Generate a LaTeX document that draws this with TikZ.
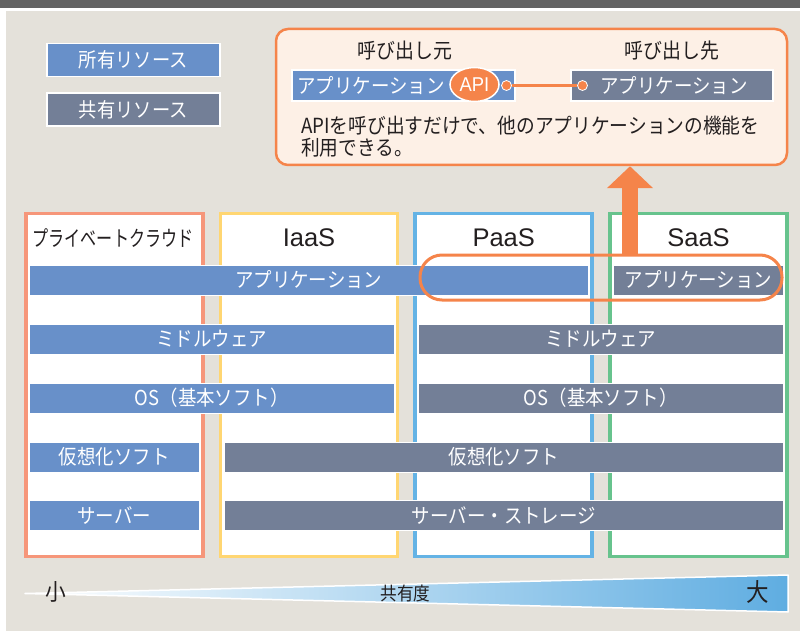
\documentclass[tikz,border=0pt]{standalone}
\usepackage{graphicx}
\usepackage{fontspec}
\setmainfont{Noto Sans CJK JP}[FakeStretch=0.9]
\newfontfamily\latfont{Liberation Sans}
\usetikzlibrary{arrows.meta,shapes.geometric}
\definecolor{bg}{HTML}{E4E1DA}
\definecolor{topdark}{HTML}{636363}
\definecolor{ownblue}{HTML}{6890C9}
\definecolor{sharegray}{HTML}{737F97}
\definecolor{acc}{HTML}{F5844A}
\definecolor{callfill}{HTML}{FDF0E6}
\definecolor{colpriv}{HTML}{F6967A}
\definecolor{coliaas}{HTML}{FFD672}
\definecolor{colpaas}{HTML}{64B3E5}
\definecolor{colsaas}{HTML}{67C38D}
\definecolor{ink}{HTML}{231F20}
\definecolor{gradblue}{HTML}{5FADE1}
\begin{document}
\begin{tikzpicture}[x=1pt,y=-1pt,
  colbox/.style={draw=#1, line width=3.5pt, fill=white, minimum width=177pt, minimum height=343pt, inner sep=0pt},
  barbase/.style={draw=white, line width=1pt, text=white, font=\fontsize{20.5}{22}\selectfont, minimum height=30pt, inner sep=0pt},
  ownbar/.style={barbase, fill=ownblue},
  sharebar/.style={barbase, fill=sharegray},
  colhead/.style={text=ink, font=\latfont\fontsize{25.5}{28}\selectfont, inner sep=0pt},
  plain/.style={text=ink, inner sep=0pt},
  dotnode/.style={circle, fill=acc, draw=white, line width=0.8pt, minimum size=10pt, inner sep=0pt}
]
\useasboundingbox (0,0) rectangle (800,631);
\fill[white] (0,0) rectangle (800,631);
\fill[bg] (6,11) rectangle (800,631);
\fill[topdark] (0,0) rectangle (800,8);

% legend
\node[ownbar, minimum width=173pt, minimum height=33pt, line width=1.5pt, font=\fontsize{20.3}{22}\selectfont] (legown) at (133.3,60) {所有リソース};
\node[sharebar, minimum width=173pt, minimum height=33pt, line width=1.5pt, font=\fontsize{20.3}{22}\selectfont] (legshare) at (133.3,109.3) {共有リソース};

% callout
\node[draw=acc, fill=callfill, line width=2.5pt, rounded corners=12pt, minimum width=511pt, minimum height=136pt, inner sep=0pt] (callout) at (531.5,97) {};
\node[plain, font=\fontsize{21}{22}\selectfont] (caller) at (405,51) {呼び出し元};
\node[plain, font=\fontsize{21}{22}\selectfont] (callee) at (672,51) {呼び出し先};
\node[ownbar, minimum width=223pt, minimum height=31pt, line width=1.5pt] (callerapp) at (403.5,85.5) {};
\node[plain, text=white, font=\fontsize{20.5}{22}\selectfont] (callertext) at (371,86) {アプリケーション};
\node[sharebar, minimum width=202pt, minimum height=31pt, line width=1.5pt] (calleeapp) at (672,85.5) {\hspace{4pt}アプリケーション};
\node[ellipse, fill=acc, draw=white, line width=1.5pt, minimum width=49pt, minimum height=34pt, inner sep=0pt, text=white, font=\latfont\fontsize{20}{20}\selectfont] (api) at (474.5,84.5) {\scalebox{0.92}[1]{API}};
\node[dotnode] (dotL) at (506.5,85.5) {};
\node[dotnode] (dotR) at (582.5,85.5) {};
\draw[acc, line width=2.5pt] (dotL) -- (dotR);
\node[plain, anchor=west, align=left, font=\fontsize{20.8}{22}\selectfont] (desc) at (301,137) {APIを呼び出すだけで、他のアプリケーションの機能を\\利用できる。};

% columns
\node[colbox=colpriv] (priv) at (114.5,385) {};
\node[colbox=coliaas] (iaas) at (309,385) {};
\node[colbox=colpaas] (paas) at (503.7,385) {};
\node[colbox=colsaas] (saas) at (698.5,385) {};
\node[plain, font=\fontsize{21.5}{22}\selectfont] (privhead) at (113,238) {\scalebox{0.83}[1]{プライベートクラウド}};
\node[colhead] (iaashead) at (309,238) {IaaS};
\node[colhead] (paashead) at (503.7,238) {PaaS};
\node[colhead] (saashead) at (698.5,238) {SaaS};

% bars
\node[ownbar, minimum width=559pt] (appL) at (308.8,280) {アプリケーション};
\node[sharebar, minimum width=170pt] (appR) at (698.3,280) {アプリケーション};
\node[ownbar, minimum width=364.5pt] (mwL) at (211.8,339) {ミドルウェア};
\node[sharebar, minimum width=364.8pt] (mwR) at (600.8,339) {ミドルウェア};
\node[ownbar, minimum width=364.5pt] (osL) at (211.8,398) {OS（基本ソフト）};
\node[sharebar, minimum width=364.8pt] (osR) at (600.8,398) {OS（基本ソフト）};
\node[ownbar, minimum width=169.4pt] (vmL) at (114.3,457) {仮想化ソフト};
\node[sharebar, minimum width=558.7pt] (vmR) at (503.9,457) {仮想化ソフト};
\node[ownbar, minimum width=169.4pt] (svL) at (114.3,515.5) {サーバー};
\node[sharebar, minimum width=558.7pt] (svR) at (503.9,515.5) {サーバー・ストレージ};

% highlight and arrow
\node[draw=acc, line width=3pt, rounded corners=22pt, minimum width=362pt, minimum height=45pt, inner sep=0pt] (stadium) at (601,277.5) {};
\coordinate (arrowx) at (630,0);
\draw[acc, line width=16pt, -{Triangle[width=45pt,length=22pt]}] (stadium.north -| arrowx) -- (callout.south -| arrowx);

% sharing gradient
\coordinate (tip) at (25,593.5);
\coordinate (tr) at (788,575);
\coordinate (br) at (788,612);
\shade[left color=white, right color=gradblue] (tip) -- (tr) -- (br) -- cycle;
\draw[white, line width=1.5pt, line join=round] (tip) -- (tr) -- (br) -- cycle;
\node[plain, font=\fontsize{23}{24}\selectfont] (small) at (56,592) {小};
\node[plain, font=\fontsize{18.5}{19}\selectfont] (degree) at (405.6,593) {共有度};
\node[plain, font=\fontsize{25}{26}\selectfont] (large) at (757.7,592) {大};
\end{tikzpicture}
\end{document}
